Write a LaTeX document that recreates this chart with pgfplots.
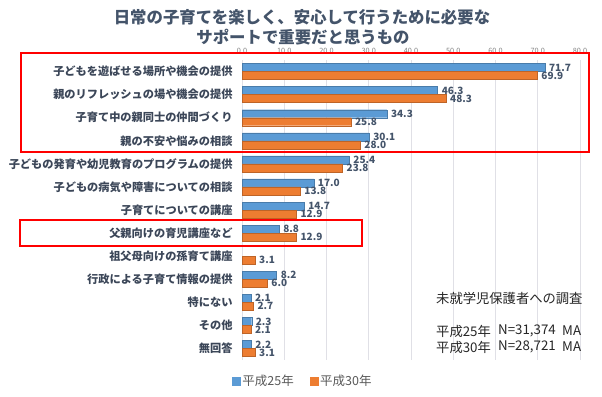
\documentclass[border=0pt]{standalone}
\usepackage{fontspec}
\setmainfont{Noto Sans CJK JP}
\usepackage{pgfplots}
\pgfplotsset{compat=1.18}
\usepackage{pgfplotstable}
\definecolor{cblue}{HTML}{5B9BD5}
\definecolor{corange}{HTML}{ED7D31}
\definecolor{ctitle}{HTML}{44546A}
\definecolor{clabel}{HTML}{3B4658}
\definecolor{cgrid}{HTML}{E0E0E6}
\definecolor{clegend}{HTML}{595959}
\pgfplotstableread{
idx h25 h30
0 71.7 69.9
1 46.3 48.3
2 34.3 25.8
3 30.1 28.0
4 25.4 23.8
5 17.0 13.8
6 14.7 12.9
7 8.8 12.9
8 nan 3.1
9 8.2 6.0
10 2.1 2.7
11 2.3 2.1
12 2.2 3.1
}\datatable
\begin{document}
\begin{tikzpicture}[x=1pt,y=1pt]
\useasboundingbox (0pt,0pt) rectangle (602pt,396pt);
\node[font=\bfseries\fontsize{16.4}{18}\selectfont, text=ctitle] at (302pt,379pt) {日常の子育てを楽しく、安心して行うために必要な};
\node[font=\bfseries\fontsize{16.4}{18}\selectfont, text=ctitle] at (303pt,359pt) {サポートで重要だと思うもの};
\begin{axis}[
  at={(242pt,36pt)}, anchor=south west,
  scale only axis, width=338pt, height=300pt,
  xbar, bar width=8pt,
  xmin=0, xmax=80,
  ymin=-0.5, ymax=12.5, y dir=reverse,
  ytick={0,...,12},
  yticklabels={子どもを遊ばせる場所や機会の提供,親のリフレッシュの場や機会の提供,子育て中の親同士の仲間づくり,親の不安や悩みの相談,子どもの発育や幼児教育のプログラムの提供,子どもの病気や障害についての相談,子育てについての講座,父親向けの育児講座など,祖父母向けの孫育て講座,行政による子育て情報の提供,特にない,その他,無回答},
  yticklabel style={font=\bfseries\fontsize{11.2}{13}\selectfont, text=clabel, xshift=-6pt},
  xtick={0,10,...,80},
  xticklabel pos=top,
  xticklabel style={font=\fontsize{7.3}{8}\selectfont, text=gray, yshift=2.5pt},
  /pgf/number format/assume math mode=true,
  /pgf/number format/.cd, fixed, fixed zerofill, precision=1, /pgfplots/.cd,
  major tick length=0pt,
  axis line style={draw=none},
  xmajorgrids, grid style={cgrid, line width=0.8pt},
  nodes near coords,
  nodes near coords style={font=\bfseries\fontsize{10}{11}\selectfont, text=ctitle, anchor=west, inner sep=1pt, xshift=3pt, /pgf/number format/.cd, fixed, fixed zerofill, precision=1},
  legend columns=2,
  legend style={at={(0.18,-0.07)}, anchor=center, draw=none, font=\fontsize{12.5}{14}\selectfont, text=clegend, /tikz/every even column/.append style={column sep=14pt}, nodes={inner sep=2pt}},
]
\addplot[fill=cblue, draw=cblue!80!black, line width=0.3pt, bar shift=4pt,
  legend image code/.code={\fill[cblue] (2pt,-4pt) rectangle (10pt,4pt);}]
  table[x=h25, y=idx] {\datatable};
\addlegendentry{平成25年}
\addplot[fill=corange, draw=corange!80!black, line width=0.3pt, bar shift=-4pt,
  legend image code/.code={\fill[corange] (2pt,-4pt) rectangle (10pt,4pt);}]
  table[x=h30, y=idx] {\datatable};
\addlegendentry{平成30年}
\end{axis}
\draw[red, line width=1.8pt] (21pt,343pt) rectangle (589pt,244pt);
\draw[red, line width=1.8pt] (20pt,176pt) rectangle (362pt,150pt);
\begin{scope}[every node/.style={font=\fontsize{13.3}{15}\selectfont, anchor=west, inner sep=0pt, text=black!85}]
\node at (436pt,98pt) {未就学児保護者への調査};
\node at (436pt,65pt) {平成25年};
\node at (498pt,65pt) {N=31,374};
\node at (562pt,65pt) {MA};
\node at (436pt,49pt) {平成30年};
\node at (498pt,49pt) {N=28,721};
\node at (562pt,49pt) {MA};
\end{scope}
\end{tikzpicture}
\end{document}
